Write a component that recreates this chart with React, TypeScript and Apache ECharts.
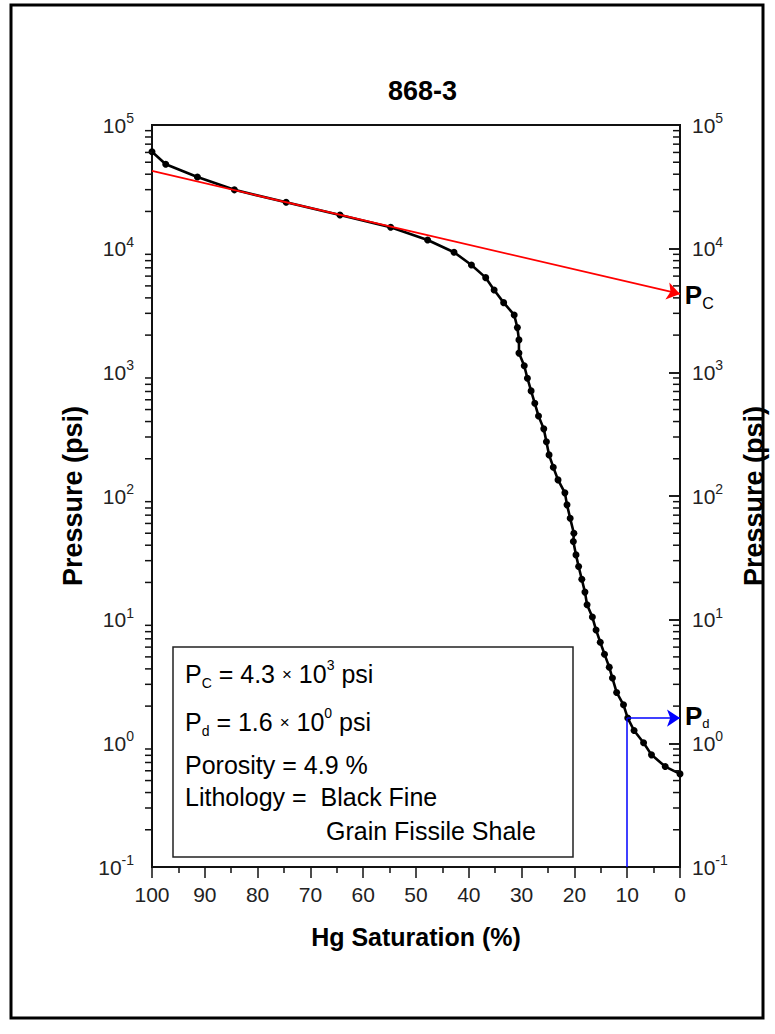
import React, { useEffect, useRef } from "react";
import * as echarts from "echarts";

// ---- data ----
const saturation = [100, 97.4, 91.4, 84.4, 74.6, 64.4, 54.8, 47.8, 42.8, 39.5, 36.8, 35.2, 33.4, 31.4, 30.8, 30.5, 30.5, 29.5, 28.9, 28.2, 27.5, 26.8, 25.8, 25.3, 24.8, 24.0, 23.1, 21.8, 21.4, 20.8, 20.1, 20.2, 19.7, 19.2, 18.6, 18.0, 17.6, 16.6, 15.9, 15.1, 14.3, 13.4, 12.8, 12.0, 10.7, 9.9, 8.7, 6.9, 5.4, 2.8, 0];
const pressure = [60800, 48100, 38000, 29900, 23700, 18700, 14900, 11750, 9360, 7380, 5830, 4630, 3660, 2910, 2300, 1830, 1430, 1130, 896, 708, 562, 444, 349, 275, 215, 171, 135, 106, 84.8, 66, 50, 42.9, 33.4, 26.9, 21.2, 16.7, 13.2, 10.5, 8.26, 6.57, 5.26, 4.13, 3.37, 2.58, 2.05, 1.6, 1.27, 1.01, 0.807, 0.649, 0.566];

const pcLineSat = [100, 0];
const pcLinePressure = [42500, 4300];
const pdSat = 10;
const pdPressure = 1.6;

const xTickValues = [0, 10, 20, 30, 40, 50, 60, 70, 80, 90, 100];
const yDecadeExponents = [-1, 0, 1, 2, 3, 4, 5];
const minorMultipliers = [2, 3, 4, 5, 6, 7, 8, 9];

const titleText = "868-3";
const xName = "Hg Saturation (%)";
const yName = "Pressure (psi)";

const FONT = "'Liberation Sans', Arial, sans-serif";

export default function App() {
  const ref = useRef<HTMLDivElement>(null);

  useEffect(() => {
    if (!ref.current) return;
    const chart = echarts.init(ref.current, null, { renderer: "svg" });

    const yMin = Math.pow(10, yDecadeExponents[0]);
    const yMax = Math.pow(10, yDecadeExponents[yDecadeExponents.length - 1]);
    const minorTickData: number[][] = [];
    yDecadeExponents.slice(0, -1).forEach((e) => {
      minorMultipliers.forEach((m) => minorTickData.push([50, m * Math.pow(10, e)]));
    });

    const logLabel = (v: number) => {
      const e = Math.round(Math.log10(v));
      return `{b|10}{s|${e}}`;
    };
    const labelRich = {
      b: { fontSize: 21, fontFamily: FONT, color: "#222", lineHeight: 28 },
      s: { fontSize: 14, fontFamily: FONT, color: "#222", lineHeight: 14, verticalAlign: "top" },
    };

    const curve = saturation.map((s, i) => [s, pressure[i]]);

    const yAxisBase = {
      type: "log",
      logBase: 10,
      min: yMin,
      max: yMax,
      interval: 1,
      splitLine: { show: false },
      axisLine: { show: true, lineStyle: { color: "#111", width: 2 } },
      nameLocation: "middle",
      nameTextStyle: { fontSize: 27, fontWeight: "bold", fontFamily: FONT, color: "#000" },
    };

    const boxRich = {
      t: { fontSize: 25, fontFamily: FONT, color: "#000", lineHeight: 32 },
      sub: { fontSize: 14, fontFamily: FONT, color: "#222", lineHeight: 12, verticalAlign: "bottom" },
      sup: { fontSize: 14, fontFamily: FONT, color: "#222", lineHeight: 14, verticalAlign: "top" },
      x: { fontSize: 17, fontFamily: FONT, color: "#777", lineHeight: 32 },
    };

    chart.setOption({
      animation: false,
      backgroundColor: "#fff",
      title: {
        text: titleText,
        left: 417.5,
        top: 72,
        textAlign: "center",
        textStyle: { fontSize: 27, fontWeight: "bold", fontFamily: FONT, color: "#000" },
      },
      grid: {
        left: 152,
        right: 92,
        top: 125,
        height: 742,
        show: true,
        borderColor: "#111",
        borderWidth: 2,
        containLabel: false,
      },
      xAxis: {
        type: "value",
        min: 0,
        max: 100,
        interval: 10,
        inverse: true,
        name: xName,
        nameLocation: "middle",
        nameGap: 57,
        nameTextStyle: { fontSize: 25, fontWeight: "bold", fontFamily: FONT, color: "#000" },
        splitLine: { show: false },
        axisLine: { show: true, lineStyle: { color: "#111", width: 2 } },
        axisTick: { show: true, length: 11, inside: false, lineStyle: { color: "#111", width: 1.5 } },
        minorTick: { show: true, splitNumber: 2, length: 6, lineStyle: { color: "#111", width: 1.5 } },
        axisLabel: {
          fontSize: 21,
          fontFamily: FONT,
          color: "#222",
          margin: 17,
          formatter: (v: number) => (xTickValues.includes(v) ? String(v) : ""),
        },
      },
      yAxis: [
        {
          ...yAxisBase,
          position: "left",
          name: yName,
          nameGap: 66,
          axisTick: { show: true, length: 11, inside: false, lineStyle: { color: "#111", width: 1.5 } },
          axisLabel: { margin: 18, formatter: logLabel, rich: labelRich },
        },
        {
          ...yAxisBase,
          position: "right",
          name: yName,
          nameGap: 60,
          axisTick: { show: true, length: 11, inside: true, lineStyle: { color: "#111", width: 1.5 } },
          axisLabel: { margin: 12, formatter: logLabel, rich: labelRich },
        },
      ],
      series: [
        {
          type: "custom",
          name: "minor ticks",
          xAxisIndex: 0,
          yAxisIndex: 0,
          clip: false,
          silent: true,
          z: 5,
          data: minorTickData,
          renderItem: (params: any, api: any) => {
            const v = api.value(1);
            const pl = api.coord([100, v]);
            const pr = api.coord([0, v]);
            const st = { stroke: "#111", lineWidth: 1.5 };
            return {
              type: "group",
              children: [
                { type: "line", shape: { x1: pl[0] - 7, y1: pl[1], x2: pl[0], y2: pl[1] }, style: st },
                { type: "line", shape: { x1: pr[0] - 7, y1: pr[1], x2: pr[0], y2: pr[1] }, style: st },
              ],
            };
          },
        },
        {
          type: "line",
          name: "Pc fit",
          data: [],
          silent: true,
          z: 3,
          markLine: {
            silent: true,
            animation: false,
            symbol: ["none", "arrow"],
            symbolSize: 13,
            lineStyle: { color: "#ff0000", width: 1.8, type: "solid" },
            label: {
              show: true,
              position: "end",
              distance: 5,
              formatter: "{p|P}{c|C}",
              rich: {
                p: { fontSize: 26, fontWeight: "bold", fontFamily: FONT, color: "#000", lineHeight: 32 },
                c: { fontSize: 16, fontFamily: FONT, color: "#000", lineHeight: 16, verticalAlign: "bottom" },
              },
            },
            data: [
              [
                { coord: [pcLineSat[0], pcLinePressure[0]] },
                { coord: [pcLineSat[1], pcLinePressure[1]] },
              ],
            ],
          },
        },
        {
          type: "line",
          name: "Pd",
          data: [],
          silent: true,
          z: 3,
          markLine: {
            silent: true,
            animation: false,
            symbolSize: 13,
            lineStyle: { color: "#0000ff", width: 1.5, type: "solid" },
            data: [
              [
                { coord: [pdSat, yMin], symbol: "none", label: { show: false } },
                { coord: [pdSat, pdPressure], symbol: "none" },
              ],
              [
                {
                  coord: [pdSat, pdPressure],
                  symbol: "none",
                  label: {
                    show: true,
                    position: "end",
                    distance: 5,
                    formatter: "{p|P}{d|d}",
                    rich: {
                      p: { fontSize: 26, fontWeight: "bold", fontFamily: FONT, color: "#000", lineHeight: 24, padding: [0, 0, 4, 0] },
                      d: { fontSize: 13, fontFamily: FONT, color: "#000", lineHeight: 10, verticalAlign: "bottom" },
                    },
                  },
                },
                { coord: [0, pdPressure], symbol: "arrow" },
              ],
            ],
            label: { show: false },
          },
        },
        {
          type: "line",
          name: "868-3",
          data: curve,
          symbol: "circle",
          symbolSize: 7,
          showSymbol: true,
          z: 4,
          lineStyle: { color: "#000", width: 2.6 },
          itemStyle: { color: "#000" },
        },
      ],
      graphic: [
        {
          type: "rect",
          shape: { x: 11, y: 5, width: 752, height: 1013 },
          style: { fill: "none", stroke: "#000", lineWidth: 3 },
          silent: true,
          z: 10,
        },
        {
          type: "rect",
          shape: { x: 173, y: 647, width: 400, height: 210 },
          style: { fill: "#fff", stroke: "#222", lineWidth: 1.5 },
          z: 20,
        },
        {
          type: "text",
          x: 185,
          y: 674,
          z: 21,
          style: {
            text: "{t|P}{sub|C}{t| = 4.3 }{x|×}{t| 10}{sup|3}{t| psi}",
            verticalAlign: "middle",
            rich: boxRich,
          },
        },
        {
          type: "text",
          x: 185,
          y: 722,
          z: 21,
          style: {
            text: "{t|P}{sub|d}{t| = 1.6 }{x|×}{t| 10}{sup|0}{t| psi}",
            verticalAlign: "middle",
            rich: boxRich,
          },
        },
        {
          type: "text",
          x: 185,
          y: 765,
          z: 21,
          style: { text: "Porosity = 4.9 %", fontSize: 25, fontFamily: FONT, fill: "#000", verticalAlign: "middle" },
        },
        {
          type: "text",
          x: 185,
          y: 797,
          z: 21,
          style: { text: "Lithology =  Black Fine", fontSize: 25, fontFamily: FONT, fill: "#000", verticalAlign: "middle" },
        },
        {
          type: "text",
          x: 326,
          y: 831,
          z: 21,
          style: { text: "Grain Fissile Shale", fontSize: 25, fontFamily: FONT, fill: "#000", verticalAlign: "middle" },
        },
      ],
    });

    return () => chart.dispose();
  }, []);

  return (
    <div
      ref={ref}
      style={{ position: "fixed", left: 0, top: 0, width: 775, height: 1034, background: "#fff" }}
    />
  );
}
